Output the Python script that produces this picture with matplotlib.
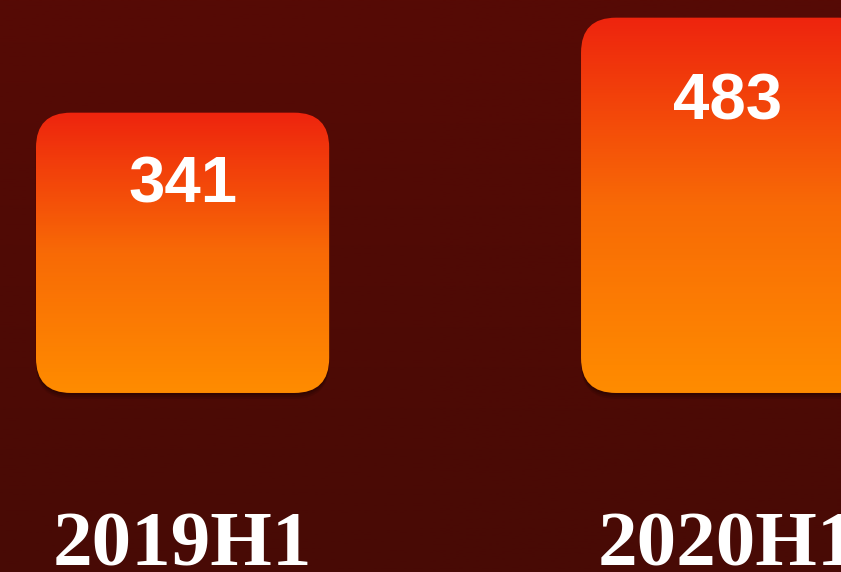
import numpy as np
import matplotlib
matplotlib.use("Agg")
import matplotlib.pyplot as plt
from matplotlib.colors import LinearSegmentedColormap
from matplotlib.patches import FancyBboxPatch
from matplotlib.transforms import blended_transform_factory

categories = ["2019H1", "2020H1"]
values = [341, 483]

bar_base = -78
bar_width = 0.538

W, H = 841, 572
x_lo, x_hi = -0.335, 1.208
y_lo, y_hi = -345.6, 509.4

fig = plt.figure(figsize=(W / 100, H / 100), dpi=100)
ax = fig.add_axes([0, 0, 1, 1])
ax.axis("off")

# background gradient
bg = LinearSegmentedColormap.from_list("bg", ["#480a06", "#560a05"])
ax.imshow(np.linspace(0, 1, 256).reshape(-1, 1), cmap=bg, aspect="auto",
          extent=[x_lo, x_hi, y_lo, y_hi], origin="lower", zorder=0)

bar_cmap = LinearSegmentedColormap.from_list("bar", ["#ff8c00", "#f86a06", "#ee240e"])

px_x = W / (x_hi - x_lo)
px_y = H / (y_hi - y_lo)
radius = 35 / px_x
aspect = px_x / px_y

for i, v in enumerate(values):
    x0 = i - bar_width / 2
    h = v - bar_base
    # soft shadow under the bar
    for k, a in [(6, 0.10), (4, 0.12), (2, 0.15)]:
        sh = FancyBboxPatch((x0, bar_base - k / px_y), bar_width, h,
                            boxstyle=f"round,pad=0,rounding_size={radius}",
                            mutation_aspect=aspect, fc="black", ec="none",
                            alpha=a, zorder=1)
        ax.add_patch(sh)
    patch = FancyBboxPatch((x0, bar_base), bar_width, h,
                           boxstyle=f"round,pad=0,rounding_size={radius}",
                           mutation_aspect=aspect, fc="none", ec="none", zorder=2)
    ax.add_patch(patch)
    im = ax.imshow(np.linspace(0, 1, 256).reshape(-1, 1), cmap=bar_cmap, aspect="auto",
                   extent=[x0, x0 + bar_width, bar_base, v], origin="lower", zorder=2)
    im.set_clip_path(patch)
    # value label sits a bit lower in taller bars
    drop = 0.127 * h + 55
    ax.text(i, v - drop, str(v), ha="center", va="center", color="white",
            fontsize=47, fontweight="bold", family="Liberation Sans", zorder=3)

trans = blended_transform_factory(ax.transData, ax.transAxes)
for i, cat in enumerate(categories):
    ax.text(i, 0.011, cat, ha="center", va="baseline", color="white",
            fontsize=57, fontweight="bold", family="Liberation Serif",
            transform=trans, zorder=3)

ax.set_xlim(x_lo, x_hi)
ax.set_ylim(y_lo, y_hi)
fig.savefig("out.png", dpi=100)
